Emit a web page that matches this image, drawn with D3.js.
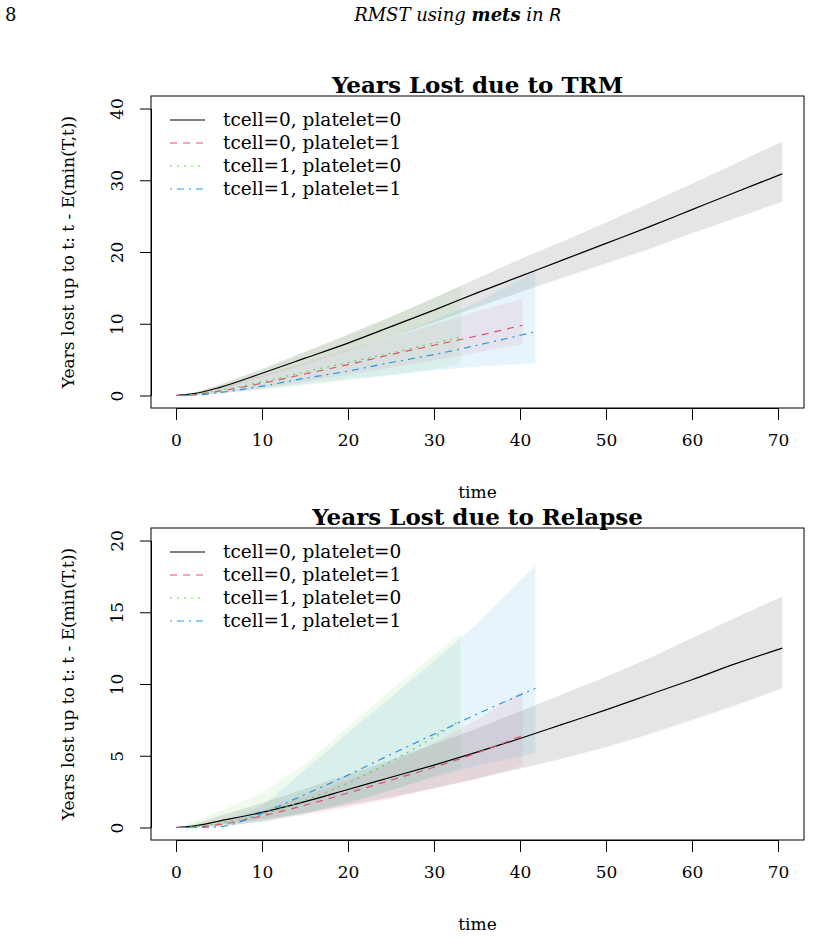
<!DOCTYPE html>
<html>
<head>
<meta charset="utf-8">
<script src="https://cdn.jsdelivr.net/npm/d3@7"></script>
<style>
body { margin: 0; background: #fff; }
svg text { font-family: "DejaVu Serif", serif; fill: #000; }
</style>
</head>
<body>
<svg id="chart" width="814" height="938"></svg>
<script>
// groups and styles
var groups = ["tcell=0, platelet=0", "tcell=0, platelet=1", "tcell=1, platelet=0", "tcell=1, platelet=1"];
var colors = ["#000000", "#DF536B", "#61D04F", "#2297E6"];
var dashes = [null, "7,6", "2,5", "2,5,7,5"];

var xTicks = [0, 10, 20, 30, 40, 50, 60, 70];
var trmTicks = [0, 10, 20, 30, 40];
var relTicks = [0, 5, 10, 15, 20];

// Years lost due to TRM
var trmTime0 = [0, 2, 5, 10, 15, 20, 25, 30, 35, 40, 45, 50, 55, 60, 65, 70.5];
var trmEst0 = [0, 0.25, 1.1, 3.1, 5.2, 7.3, 9.6, 11.9, 14.3, 16.6, 18.9, 21.2, 23.5, 25.9, 28.3, 30.9];
var trmLow0 = [0, 0.15, 0.8, 2.5, 4.3, 6.2, 8.2, 10.2, 12.3, 14.4, 16.4, 18.4, 20.4, 22.6, 24.7, 27.0];
var trmUp0 = [0, 0.35, 1.5, 3.7, 6.1, 8.5, 11.0, 13.6, 16.3, 19.0, 21.5, 24.1, 26.8, 29.5, 32.3, 35.4];

var trmTime1 = [0, 2, 5, 10, 15, 20, 25, 30, 35, 40.3];
var trmEst1 = [0, 0.1, 0.6, 1.7, 3.0, 4.3, 5.7, 7.0, 8.3, 9.8];
var trmLow1 = [0, 0.05, 0.3, 1.0, 1.9, 2.9, 3.9, 4.9, 6.0, 7.1];
var trmUp1 = [0, 0.2, 1.0, 2.8, 4.6, 6.4, 8.1, 9.9, 11.7, 13.5];

var trmTime2 = [0, 2, 5, 10, 15, 20, 25, 30, 33.1];
var trmEst2 = [0, 0.15, 0.7, 1.9, 3.3, 4.6, 5.9, 7.3, 8.1];
var trmLow2 = [0, 0.05, 0.2, 0.8, 1.4, 2.1, 2.8, 3.7, 4.3];
var trmUp2 = [0, 0.3, 1.4, 3.6, 6.0, 8.4, 10.9, 13.6, 15.3];

var trmTime3 = [0, 2, 5, 10, 15, 20, 25, 30, 35, 41.8];
var trmEst3 = [0, 0.05, 0.4, 1.3, 2.4, 3.4, 4.6, 5.7, 7.0, 8.9];
var trmLow3 = [0, 0.02, 0.3, 0.9, 1.6, 2.3, 2.9, 3.5, 4.0, 4.5];
var trmUp3 = [0, 0.1, 0.9, 2.5, 4.3, 6.2, 8.2, 10.5, 13.0, 17.3];

// Years lost due to Relapse
var relTime0 = [0, 2, 5, 10, 15, 20, 25, 30, 35, 40, 45, 50, 55, 60, 65, 70.5];
var relEst0 = [0, 0.1, 0.45, 1.05, 1.8, 2.65, 3.5, 4.35, 5.25, 6.2, 7.2, 8.2, 9.25, 10.3, 11.4, 12.5];
var relLow0 = [0, 0.03, 0.2, 0.55, 1.0, 1.55, 2.1, 2.75, 3.4, 4.1, 4.8, 5.6, 6.5, 7.5, 8.5, 9.7];
var relUp0 = [0, 0.2, 0.8, 1.7, 2.7, 3.7, 4.7, 5.8, 6.9, 8.1, 9.3, 10.5, 11.8, 13.2, 14.6, 16.1];

var relTime1 = [0, 2, 5, 10, 15, 20, 25, 30, 35, 40.3];
var relEst1 = [0, 0.02, 0.2, 0.8, 1.55, 2.4, 3.3, 4.2, 5.2, 6.4];
var relLow1 = [0, 0.01, 0.1, 0.4, 0.85, 1.4, 2.0, 2.7, 3.4, 4.3];
var relUp1 = [0, 0.05, 0.4, 1.2, 2.2, 3.3, 4.5, 5.9, 7.5, 9.55];

var relTime2 = [0, 2, 5, 10, 15, 20, 25, 30, 33.1];
var relEst2 = [0, 0.05, 0.3, 0.9, 1.9, 3.1, 4.6, 6.3, 7.5];
var relLow2 = [0, 0.02, 0.1, 0.4, 1.0, 1.8, 2.6, 3.6, 4.2];
var relUp2 = [0, 0.4, 1.1, 2.4, 4.4, 7.0, 9.6, 12.0, 13.5];

var relTime3 = [0, 2, 5, 10, 15, 20, 25, 30, 35, 41.8];
var relEst3 = [0, 0, 0.05, 1.0, 2.3, 3.65, 5.1, 6.5, 7.9, 9.7];
var relLow3 = [0, 0, 0, 0.4, 1.0, 1.7, 2.6, 3.5, 4.3, 5.2];
var relUp3 = [0, 0.02, 0.3, 1.5, 4.0, 6.6, 9.1, 11.6, 14.2, 18.3];

function series(t, est, low, up) {
	return t.map(function(d, i) {
		return {t: d, est: est[i], low: low[i], up: up[i]};
	});
}

var svg = d3.select("#chart");

// page header
svg.append("text")
	.attr("x", 5)
	.attr("y", 21)
	.attr("font-size", 18)
	.text("8");

var head = svg.append("text")
	.attr("x", 458)
	.attr("y", 21)
	.attr("text-anchor", "middle")
	.attr("font-size", 18)
	.attr("font-style", "italic");
head.append("tspan").text("RMST using ");
head.append("tspan").attr("font-weight", "bold").text("mets");
head.append("tspan").text(" in ");
head.append("tspan").style("font-family", "'DejaVu Sans', sans-serif").text("R");

drawPanel({
	title: "Years Lost due to TRM",
	top: 96,
	yTicks: trmTicks,
	yMax: 40,
	series: [
		series(trmTime0, trmEst0, trmLow0, trmUp0),
		series(trmTime1, trmEst1, trmLow1, trmUp1),
		series(trmTime2, trmEst2, trmLow2, trmUp2),
		series(trmTime3, trmEst3, trmLow3, trmUp3)
	]
});

drawPanel({
	title: "Years Lost due to Relapse",
	top: 528,
	yTicks: relTicks,
	yMax: 20,
	series: [
		series(relTime0, relEst0, relLow0, relUp0),
		series(relTime1, relEst1, relLow1, relUp1),
		series(relTime2, relEst2, relLow2, relUp2),
		series(relTime3, relEst3, relLow3, relUp3)
	]
});

function drawPanel(cfg) {
	var left = 151, right = 804;
	var top = cfg.top, bottom = cfg.top + 312;

	var x = d3.scaleLinear().domain([0, 70]).range([176, 778]);
	var y = d3.scaleLinear().domain([0, cfg.yMax]).range([bottom - 12.5, top + 12.5]);

	var g = svg.append("g");

	// confidence bands
	var area = d3.area()
		.x(function(d) { return x(d.t); })
		.y0(function(d) { return y(d.low); })
		.y1(function(d) { return y(d.up); });

	g.selectAll("path.band")
		.data(cfg.series)
		.enter()
		.append("path")
		.attr("class", "band")
		.attr("d", area)
		.attr("fill", function(d, i) { return colors[i]; })
		.attr("fill-opacity", 0.1)
		.attr("stroke", "none");

	// estimates
	var line = d3.line()
		.x(function(d) { return x(d.t); })
		.y(function(d) { return y(d.est); })
		.curve(d3.curveMonotoneX);

	g.selectAll("path.est")
		.data(cfg.series)
		.enter()
		.append("path")
		.attr("class", "est")
		.attr("d", line)
		.attr("fill", "none")
		.attr("stroke", function(d, i) { return colors[i]; })
		.attr("stroke-width", 1.2)
		.attr("stroke-dasharray", function(d, i) { return dashes[i]; });

	// box
	g.append("rect")
		.attr("x", left)
		.attr("y", top)
		.attr("width", right - left)
		.attr("height", bottom - top)
		.attr("fill", "none")
		.attr("stroke", "#000")
		.attr("stroke-width", 1);

	// x axis
	var xAxis = g.append("g")
		.attr("transform", "translate(0," + bottom + ")")
		.call(d3.axisBottom(x).tickValues(xTicks).tickSize(12).tickSizeOuter(0).tickPadding(14));
	xAxis.selectAll("text").attr("font-size", 17).style("font-family", "'DejaVu Serif', serif");

	// y axis, labels parallel to the axis
	var yAxis = g.append("g")
		.attr("transform", "translate(" + left + ",0)")
		.call(d3.axisLeft(y).tickValues(cfg.yTicks).tickSize(11).tickSizeOuter(0));
	yAxis.selectAll("text")
		.attr("x", null)
		.attr("dy", null)
		.attr("text-anchor", "middle")
		.attr("transform", "translate(-28,0) rotate(-90)")
		.attr("font-size", 17)
		.style("font-family", "'DejaVu Serif', serif");

	// title
	g.append("text")
		.attr("x", (left + right) / 2)
		.attr("y", top - 3)
		.attr("text-anchor", "middle")
		.attr("font-size", 23)
		.attr("font-weight", "bold")
		.text(cfg.title);

	// axis labels
	g.append("text")
		.attr("x", (left + right) / 2)
		.attr("y", bottom + 90)
		.attr("text-anchor", "middle")
		.attr("font-size", 17)
		.text("time");

	g.append("text")
		.attr("transform", "translate(74," + ((top + bottom) / 2) + ") rotate(-90)")
		.attr("text-anchor", "middle")
		.attr("font-size", 17)
		.text("Years lost up to t: t - E(min(T,t))");

	// legend
	var leg = g.selectAll("g.leg")
		.data(groups)
		.enter()
		.append("g")
		.attr("class", "leg")
		.attr("transform", function(d, i) { return "translate(0," + (top + 24 + i * 23) + ")"; });

	leg.append("line")
		.attr("x1", 170)
		.attr("x2", 205)
		.attr("stroke", function(d, i) { return colors[i]; })
		.attr("stroke-width", 1.2)
		.attr("stroke-dasharray", function(d, i) { return dashes[i]; });

	leg.append("text")
		.attr("x", 223)
		.attr("y", 6)
		.attr("font-size", 18.5)
		.text(function(d) { return d; });
}
</script>
</body>
</html>
